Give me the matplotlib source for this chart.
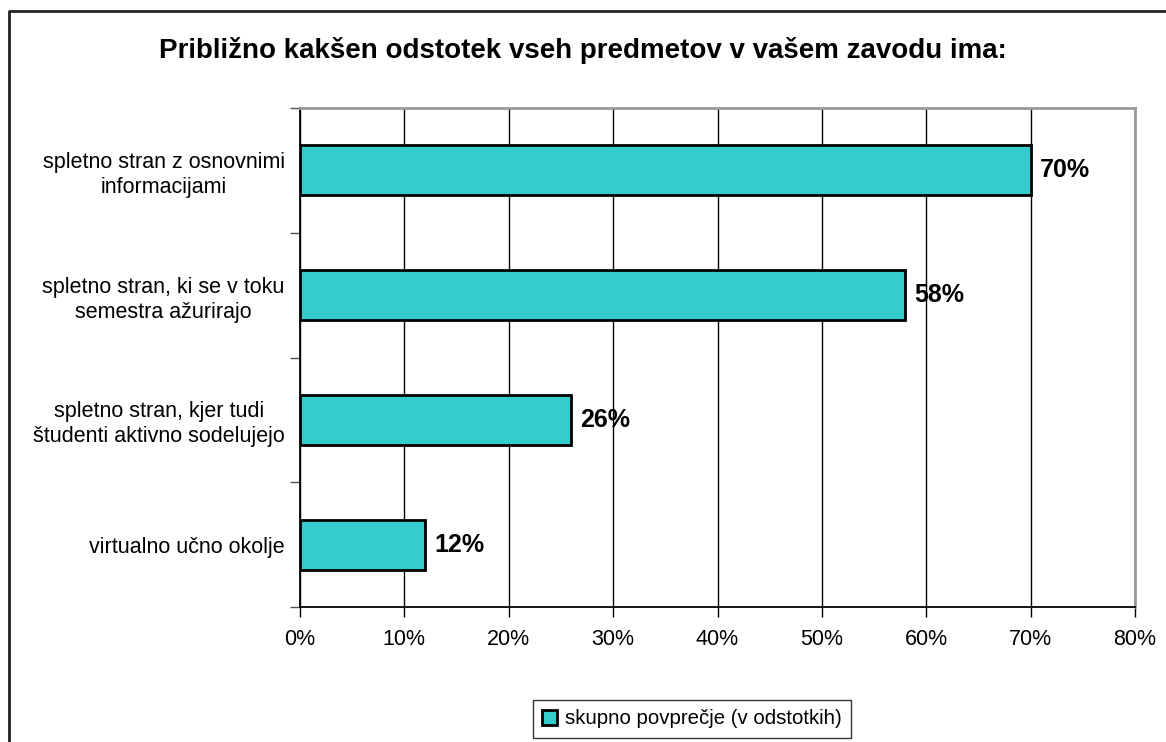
import matplotlib
matplotlib.use("Agg")
import matplotlib.pyplot as plt
from matplotlib.lines import Line2D
import numpy as np

categories = [
    "spletno stran z osnovnimi\ninformacijami",
    "spletno stran, ki se v toku\nsemestra ažurirajo",
    "spletno stran, kjer tudi\nštudenti aktivno sodelujejo",
    "virtualno učno okolje",
]
values = [70, 58, 26, 12]
xticks = [0, 10, 20, 30, 40, 50, 60, 70, 80]
title = "Približno kakšen odstotek vseh predmetov v vašem zavodu ima:"
series_name = "skupno povprečje (v odstotkih)"

plt.rcParams['font.family'] = ['Liberation Sans', 'DejaVu Sans']

W, H = 1166, 742
fig = plt.figure(figsize=(W / 100, H / 100), dpi=100)
ax = fig.add_axes([300 / W, 1 - 607 / H, (1135 - 300) / W, (607 - 108) / H])

n = len(categories)
ypos = np.arange(n)
color = "#33CCCC"
bars = ax.barh(ypos, values, height=0.4, color=color, edgecolor="black",
               linewidth=2, zorder=3, label=series_name)
ax.set_ylim(n - 0.5, -0.5)
ax.set_xlim(0, 80)

ax.set_xticks(xticks)
ax.set_xticklabels([f"{v}%" for v in xticks], fontsize=15.5)
ax.set_yticks(ypos)
ax.set_yticklabels(categories, fontsize=15.5, multialignment="center",
                   linespacing=1.25)
ax.tick_params(axis="y", length=0, pad=11)
ax.set_yticks(np.arange(n + 1) - 0.5, minor=True)
ax.tick_params(axis="y", which="minor", length=7, width=1, color="#555555")
ax.tick_params(axis="x", length=7, width=1, pad=9, color="black")

ax.xaxis.grid(True, color="black", linewidth=1)
ax.set_axisbelow(True)
for s in ["top", "right"]:
    ax.spines[s].set_color("#999999")
    ax.spines[s].set_linewidth(2)
for s in ["left", "bottom"]:
    ax.spines[s].set_color("black")
    ax.spines[s].set_linewidth(1.3)

for y, v in zip(ypos, values):
    ax.text(v + 0.85, y, f"{v}%", va="center", ha="left",
            fontsize=18, fontweight="bold")

fig.text(583 / W, 1 - 51 / H, title, ha="center", va="center",
         fontsize=20, fontweight="bold")

leg = fig.legend(handles=[bars], labels=[series_name],
                 loc="center", bbox_to_anchor=(692 / W, 1 - 719 / H),
                 fontsize=14.7, frameon=True, fancybox=False,
                 edgecolor="black", handlelength=0.7, handleheight=0.7,
                 handletextpad=0.4, borderpad=0.45)
leg.get_frame().set_linewidth(1)

# outer chart border (left and top visible)
fig.add_artist(Line2D([8.5 / W, 8.5 / W, 1.0], [0, 1 - 10.5 / H, 1 - 10.5 / H],
                      transform=fig.transFigure, color="#222222", linewidth=2))

fig.savefig("out.png", dpi=100)
